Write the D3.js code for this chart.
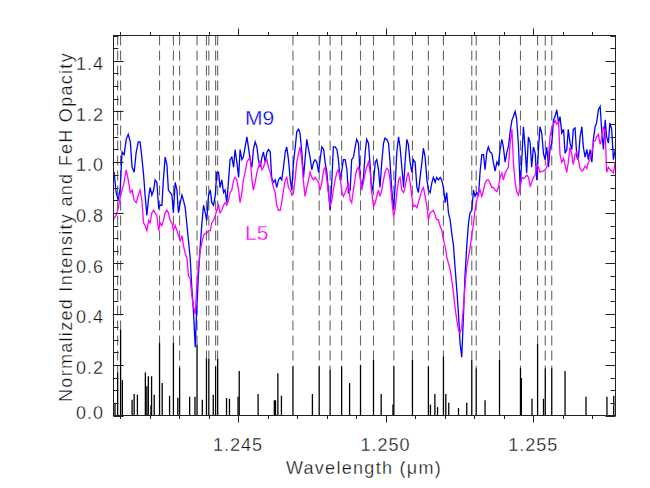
<!DOCTYPE html>
<html>
  <head>
    <meta charset="UTF-8" />
    <style>
      body { margin: 0; background: #fff; }
      svg text {
        font-family: "Liberation Sans", Arial, sans-serif;
        stroke: #fff;
        stroke-width: 0.3px;
      }
    </style>
  </head>
  <body>
    <svg></svg>
    <script src="https://d3js.org/d3.v7.min.js"></script>
    <script>
      let width = 650,
        height = 488;

      // wavelength grid (micron) shared by both spectra
      const wave = [
        1.24078, 1.2408, 1.24087, 1.24094, 1.24101, 1.24107, 1.24114, 1.24121, 1.24128, 1.24135, 1.24141, 1.24148, 1.24155, 1.24162,
        1.24168, 1.24174, 1.2418, 1.24185, 1.24191, 1.24197, 1.24202, 1.24208, 1.24214, 1.24219,
        1.24225, 1.24231, 1.24236, 1.24242, 1.24247, 1.24253, 1.24259, 1.24264, 1.2427, 1.24276,
        1.24281, 1.24287, 1.24293, 1.24298, 1.24304, 1.2431, 1.24315, 1.24321, 1.24327, 1.24332,
        1.24338, 1.24343, 1.24349, 1.24355, 1.2436, 1.24366, 1.24372, 1.24377, 1.24383, 1.24389,
        1.24394, 1.244, 1.24406, 1.24411, 1.24417, 1.24423, 1.24428, 1.24434, 1.24439, 1.24445,
        1.24451, 1.24456, 1.24462, 1.24468, 1.24473, 1.24479, 1.24485, 1.2449, 1.24496, 1.24502,
        1.24507, 1.24513, 1.24518, 1.24524, 1.2453, 1.24535, 1.24541, 1.24547, 1.24552, 1.24558,
        1.24564, 1.24569, 1.24575, 1.24581, 1.24586, 1.24592, 1.24598, 1.24603, 1.24609, 1.24614,
        1.2462, 1.24626, 1.24631, 1.24637, 1.24643, 1.24648, 1.24654, 1.2466, 1.24665, 1.24671,
        1.24677, 1.24682, 1.24688, 1.24694, 1.24699, 1.24705, 1.2471, 1.24716, 1.24722, 1.24727,
        1.24733, 1.24739, 1.24744, 1.2475, 1.24756, 1.24761, 1.24767, 1.24773, 1.24778, 1.24784,
        1.2479, 1.24795, 1.24801, 1.24806, 1.24812, 1.24818, 1.24823, 1.24829, 1.24835, 1.2484,
        1.24846, 1.24852, 1.24857, 1.24863, 1.24869, 1.24874, 1.2488, 1.24885, 1.24891, 1.24897,
        1.24902, 1.24908, 1.24914, 1.24919, 1.24925, 1.24931, 1.24936, 1.24942, 1.24948, 1.24953,
        1.24959, 1.24965, 1.2497, 1.24976, 1.24981, 1.24987, 1.24993, 1.24998, 1.25004, 1.2501,
        1.25015, 1.25021, 1.25027, 1.25032, 1.25038, 1.25044, 1.25049, 1.25055, 1.25061, 1.25066,
        1.25072, 1.25077, 1.25083, 1.25089, 1.25094, 1.251, 1.25106, 1.25111, 1.25117, 1.25123,
        1.25128, 1.25134, 1.2514, 1.25145, 1.25151, 1.25157, 1.25162, 1.25168, 1.25173, 1.25179,
        1.25185, 1.2519, 1.25196, 1.25202, 1.25207, 1.25213, 1.25219, 1.25224, 1.2523, 1.25235,
        1.25241, 1.25247, 1.25252, 1.25258, 1.25264, 1.25269, 1.25275, 1.25281, 1.25286, 1.25292,
        1.25298, 1.25303, 1.25309, 1.25315, 1.2532, 1.25326, 1.25332, 1.25337, 1.25343, 1.25348,
        1.25354, 1.2536, 1.25365, 1.25371, 1.25377, 1.25382, 1.25388, 1.25394, 1.25399, 1.25405,
        1.25411, 1.25416, 1.25422, 1.25428, 1.25433, 1.25439, 1.25444, 1.2545, 1.25456, 1.25461,
        1.25467, 1.25473, 1.25478, 1.25484, 1.2549, 1.25495, 1.25501, 1.25507, 1.25512, 1.25518,
        1.25523, 1.25529, 1.25535, 1.2554, 1.25546, 1.25552, 1.25557, 1.25563, 1.25569, 1.25574,
        1.2558, 1.25586, 1.25591, 1.25597, 1.25603, 1.25608, 1.25614, 1.25619, 1.25625, 1.25631,
        1.25636, 1.25642, 1.25648, 1.25653, 1.25659, 1.25665, 1.2567, 1.25676, 1.25682, 1.25687,
        1.25693, 1.25699, 1.25704, 1.2571, 1.25715, 1.25721, 1.25727, 1.25732, 1.25738, 1.25744,
        1.25749, 1.25755, 1.2576, 1.25766, 1.25772, 1.25778,
      ];

      // M9 normalized intensity
      const m9 = [
        0.96, 0.96, 0.88, 0.85, 0.9, 1.04, 1.03, 1.09, 1.11, 1.08, 0.98, 0.96, 1.04, 1.08,
        1.08, 1.02, 0.95, 0.87, 0.79, 0.86, 0.9, 0.87, 0.89, 0.93,
        0.92, 0.82, 0.83, 0.83, 0.93, 1.02, 0.99, 0.89, 0.88, 0.87,
        0.8, 0.92, 0.89, 0.8, 0.84, 0.87, 0.85, 0.82, 0.75, 0.69,
        0.62, 0.51, 0.41, 0.27, 0.42, 0.56, 0.67, 0.75, 0.83, 0.8,
        0.77, 0.87, 0.89, 0.84, 0.83, 0.87, 0.96, 0.96, 0.9, 0.93,
        0.88, 0.89, 0.84, 0.93, 1.01, 1.02, 0.98, 1.05, 1.0, 0.94,
        1.05, 1.01, 1.02, 1.06, 1.1, 1.06, 1.01, 0.98, 1.05, 1.08,
        1.06, 1.01, 0.98, 1.02, 1.04, 1.0, 1.04, 1.05, 1.04, 0.94,
        0.92, 0.93, 0.9, 0.93, 0.94, 0.93, 0.98, 1.04, 1.06, 1.01,
        0.93, 0.89, 1.0, 1.06, 1.12, 1.13,
        1.115, 1.04, 0.94, 1.01, 1.09, 1.05, 1.02, 0.97, 1.0, 1.01,
        1.0, 0.96, 1.01, 1.06, 1.05, 1.0, 0.96, 0.89, 0.81, 0.93,
        1.06, 1.06, 1.05, 1.01, 0.93, 0.97, 1.01, 1.01, 0.97, 0.88,
        0.89, 1.01, 1.02, 1.06, 1.09, 1.075, 0.94, 0.9, 0.94, 1.04,
        1.09, 1.075, 0.98, 0.88, 0.92, 1.0, 1.01, 0.97, 0.9, 1.0,
        1.075, 1.095, 1.09, 1.075, 1.0, 0.89, 0.81, 0.9, 1.04, 1.1,
        1.06, 0.98, 0.9, 1.0, 1.09, 1.07, 1.0, 0.96, 1.01, 1.0,
        0.9, 0.88, 0.94, 1.0, 1.055, 1.02, 0.93, 0.89, 0.88, 0.92,
        0.94, 0.92, 0.94, 0.93, 0.94, 0.93, 0.9, 0.84, 0.88, 0.8,
        0.77, 0.72, 0.67, 0.59, 0.5, 0.4, 0.29, 0.23, 0.4, 0.55,
        0.67, 0.76,
        0.8, 0.81, 0.89, 0.865, 0.88, 0.87, 0.96, 1.03, 1.03, 0.97,
        1.04, 1.06, 1.04, 1.035, 1.0, 0.965, 1.0, 0.99, 1.05, 1.09,
        1.06, 1.0, 1.04, 1.06, 1.12, 1.165, 1.18, 1.2, 1.17, 1.07,
        0.9, 1.0, 1.14, 1.05, 0.957, 1.1, 1.075, 0.98, 1.06, 1.035,
        0.93, 1.05, 1.14, 1.115, 1.035, 1.01, 1.06, 0.98, 1.05, 1.075,
        1.167, 1.18, 1.207, 1.155, 1.18, 1.115, 1.13, 1.035, 1.05, 1.13,
        1.075, 1.05, 1.13, 1.135, 1.02, 1.01, 1.1, 1.14, 1.06, 1.02,
        1.05, 1.01, 1.05, 1.0, 1.09, 1.14, 1.155, 1.207, 1.22, 1.13,
        1.05, 1.167, 1.1, 1.075, 1.155, 1.13, 1.01, 1.05,
      ];

      // L5 normalized intensity
      const l5 = [
        0.77, 0.78, 0.79, 0.82, 0.86, 0.89, 0.92, 0.97, 0.93, 0.88, 0.89, 0.85, 0.84, 0.87,
        0.89, 0.85, 0.76, 0.75, 0.73, 0.77, 0.76, 0.8, 0.81, 0.8,
        0.79, 0.73, 0.76, 0.75, 0.77, 0.8, 0.81, 0.8, 0.77, 0.76,
        0.73, 0.75, 0.73, 0.71, 0.69, 0.71, 0.67, 0.64, 0.62, 0.55,
        0.54, 0.48, 0.43, 0.4, 0.51, 0.59, 0.65, 0.68, 0.71, 0.72,
        0.72, 0.73, 0.73, 0.76, 0.77, 0.79, 0.81, 0.83, 0.8, 0.81,
        0.83, 0.84, 0.83, 0.85, 0.88, 0.89, 0.93, 0.94, 0.93, 0.89,
        0.84, 0.88, 0.93, 0.96, 1.0, 1.01, 1.02, 0.93, 0.89, 0.92,
        0.96, 0.98, 1.0, 0.97, 0.98, 1.0, 1.01, 0.98, 0.96, 0.93,
        0.9, 0.88, 0.83, 0.81, 0.81, 0.84, 0.89, 0.93, 0.94, 0.9,
        0.89, 0.87, 0.88, 0.94, 1.0, 1.035,
        1.06, 1.01, 0.92, 0.865, 0.9, 0.93, 0.96, 0.94, 0.93, 0.94,
        0.93, 0.92, 0.89, 0.92, 0.97, 0.98, 0.93, 0.88, 0.825, 0.85,
        0.89, 0.93, 0.96, 0.97, 0.94, 0.88, 0.865, 0.88, 0.9, 0.92,
        0.85, 0.84, 0.89, 0.94, 0.97, 0.98, 0.94, 0.89, 0.92, 0.96,
        0.98, 1.0, 0.96, 0.88, 0.825, 0.84, 0.865, 0.89, 0.865, 0.89,
        0.93, 0.96, 0.976, 0.97, 0.93, 0.85, 0.786, 0.81, 0.88, 0.93,
        0.94, 0.89, 0.88, 0.9, 0.94, 0.96, 0.92, 0.865, 0.825, 0.83,
        0.82, 0.84, 0.865, 0.89, 0.9, 0.865, 0.825, 0.773, 0.8, 0.805,
        0.81, 0.79, 0.773, 0.773, 0.746, 0.733, 0.694, 0.667, 0.628, 0.6,
        0.575, 0.536, 0.483, 0.43, 0.378, 0.338, 0.325, 0.35, 0.43, 0.51,
        0.588, 0.628,
        0.66, 0.71, 0.76, 0.81, 0.85, 0.878, 0.89, 0.865, 0.89, 0.918,
        0.93, 0.93, 0.918, 0.9, 0.9, 0.89, 0.884, 0.9, 0.94, 0.957,
        0.93, 0.957, 0.97, 0.98, 1.075, 1.13, 1.0, 0.92, 0.885, 0.87,
        0.9, 0.94, 0.935, 0.94, 0.95, 0.94, 0.905, 0.92, 0.94, 0.95,
        0.99, 0.98, 0.96, 0.965, 0.965, 0.97, 0.98, 1.02, 1.1, 1.135,
        1.15, 1.165, 1.15, 1.16, 1.03, 1.0, 1.015, 0.99, 0.96, 1.0,
        1.06, 1.03, 0.99, 1.03, 1.04, 1.01, 0.975, 0.965, 0.97, 0.985,
        0.975, 1.0, 1.01, 1.04, 1.08, 1.085, 1.1, 1.11, 1.07, 1.09,
        1.14, 1.12, 0.96, 0.98, 0.97, 0.965, 0.957, 1.0,
      ];

      // FeH opacity lines
      const feWave = [
        1.24083, 1.24092, 1.24102, 1.24108, 1.24141, 1.24148, 1.24159, 1.24186, 1.24191, 1.24196,
        1.24205, 1.24207, 1.24216, 1.24234, 1.24243, 1.24268, 1.24281, 1.24296, 1.24302, 1.24336,
        1.24354, 1.24361, 1.24379, 1.24393, 1.24401, 1.24416, 1.24424, 1.24431, 1.24461, 1.24471,
        1.245, 1.24504, 1.24568, 1.24623, 1.24627, 1.24635, 1.24647, 1.24686, 1.24752, 1.24775,
        1.24812, 1.24851, 1.24878, 1.24915, 1.24959, 1.24985, 1.25025, 1.25028, 1.25091, 1.25145,
        1.25152, 1.25167, 1.25176, 1.25196, 1.25204, 1.25214, 1.25247, 1.25275, 1.25292, 1.25307,
        1.25337, 1.25386, 1.25457, 1.2546, 1.25496, 1.25515, 1.25535, 1.25541, 1.25563, 1.25608,
        1.25679, 1.2575, 1.25773,
      ];
      const feOpac = [
        0.05, 0.17, 0.34, 0.14, 0.062, 0.085, 0.082, 0.17, 0.115, 0.155,
        0.04, 0.155, 0.082, 0.286, 0.128, 0.078, 0.286, 0.07, 0.19, 0.074,
        0.074, 0.28, 0.062, 0.226, 0.224, 0.082, 0.194, 0.224, 0.069, 0.066,
        0.074, 0.176, 0.085, 0.06, 0.06, 0.167, 0.078, 0.194, 0.085, 0.194,
        0.181, 0.194, 0.128, 0.2, 0.22, 0.085, 0.043, 0.194, 0.22, 0.194,
        0.043, 0.085, 0.033, 0.233, 0.085, 0.05, 0.03, 0.05, 0.22, 0.187,
        0.06, 0.22, 0.187, 0.148, 0.066, 0.282, 0.066, 0.187, 0.187, 0.176,
        0.074, 0.074, 0.078,
      ];

      // marked FeH lines (dashed)
      const markWave = [
        1.24092, 1.24102, 1.24234, 1.24281, 1.24302, 1.24361, 1.24393, 1.24401, 1.24424, 1.24431,
        1.24686, 1.24775, 1.24812, 1.24851, 1.24915, 1.24959, 1.25028, 1.25091, 1.25145, 1.25196,
        1.25292, 1.25307, 1.25386, 1.25457, 1.25515, 1.25541, 1.25563,
      ];

      const xMajor = [1.245, 1.25, 1.255];
      const xLabels = ["1.245", "1.250", "1.255"];
      const yMajor = [0, 0.2, 0.4, 0.6, 0.8, 1.0, 1.2, 1.4];
      const yLabels = ["0.0", "0.2", "0.4", "0.6", "0.8", "1.0", "1.2", "1.4"];

      let svg = d3.select("svg").attr("width", width).attr("height", height);

      const x = d3.scaleLinear().domain([1.24078, 1.25779]).range([113.5, 615.5]);
      const y = d3.scaleLinear().domain([0, 1.5]).range([415.5, 35.5]);

      const textCol = "#111";

      // dashed markers, from the top down to the line peak
      svg
        .append("g")
        .selectAll("line")
        .data(markWave)
        .enter()
        .append("line")
        .attr("x1", (d) => x(d))
        .attr("x2", (d) => x(d))
        .attr("y1", y(1.5))
        .attr("y2", (d) => {
          let i = d3.minIndex(feWave, (w) => Math.abs(w - d));
          return y(feOpac[i]);
        })
        .attr("stroke", "#666")
        .attr("stroke-width", 1.1)
        .attr("stroke-dasharray", "10,5");

      // opacity spikes
      svg
        .append("g")
        .selectAll("line")
        .data(feWave)
        .enter()
        .append("line")
        .attr("x1", (d) => x(d))
        .attr("x2", (d) => x(d))
        .attr("y1", y(0))
        .attr("y2", (d, i) => y(feOpac[i]))
        .attr("stroke", "#000")
        .attr("stroke-width", 1.3);

      const line = d3
        .line()
        .x((d, i) => x(wave[i]))
        .y((d) => y(d));

      svg.append("path").attr("d", line(m9)).attr("fill", "none")
        .attr("stroke", "#0000ff").attr("stroke-width", 1.3);
      svg.append("path").attr("d", line(l5)).attr("fill", "none")
        .attr("stroke", "#ff00ff").attr("stroke-width", 1.3);

      // frame
      svg.append("rect")
        .attr("x", 113.5).attr("y", 35.5)
        .attr("width", 502).attr("height", 380)
        .attr("fill", "none").attr("stroke", "#222").attr("stroke-width", 1);

      // x ticks (outward) on bottom and top
      const xMinor = d3.range(1241, 1258).map((d) => d / 1000);
      let ax = svg.append("g").attr("stroke", "#222").attr("stroke-width", 1);
      xMinor.forEach((v) => {
        let len = xMajor.some((m) => Math.abs(m - v) < 1e-6) ? 7 : 3.5;
        let px = Math.round(x(v)) + 0.5;
        ax.append("line").attr("x1", px).attr("x2", px).attr("y1", 415.5).attr("y2", 415.5 + len);
        ax.append("line").attr("x1", px).attr("x2", px).attr("y1", 35.5).attr("y2", 35.5 - len);
      });

      // y ticks (inward) on left and right
      const yMinor = d3.range(0, 31).map((d) => d * 0.05);
      yMinor.forEach((v, i) => {
        let len = i % 4 == 0 ? 10 : 5;
        let py = Math.round(y(v)) + 0.5;
        ax.append("line").attr("x1", 113.5).attr("x2", 113.5 + len).attr("y1", py).attr("y2", py);
        ax.append("line").attr("x1", 615.5).attr("x2", 615.5 - len).attr("y1", py).attr("y2", py);
      });

      svg
        .selectAll("text.xl")
        .data(xMajor)
        .enter()
        .append("text")
        .attr("x", (d) => x(d))
        .attr("y", 451)
        .attr("text-anchor", "middle")
        .style("font-size", "18px")
        .style("letter-spacing", "1px")
        .style("fill", textCol)
        .text((d, i) => xLabels[i]);

      svg
        .selectAll("text.yl")
        .data(yMajor)
        .enter()
        .append("text")
        .attr("x", 104)
        .attr("y", (d) => (d == 0 ? y(d) + 3 : y(d) + 9))
        .attr("text-anchor", "end")
        .style("font-size", "18px")
        .style("letter-spacing", "1px")
        .style("fill", textCol)
        .text((d, i) => yLabels[i]);

      svg.append("text")
        .attr("x", 364).attr("y", 474)
        .attr("text-anchor", "middle")
        .style("font-size", "18px")
        .style("letter-spacing", "1.3px")
        .style("fill", textCol)
        .text("Wavelength (μm)");

      svg.append("text")
        .attr("transform", "translate(72,227) rotate(-90)")
        .attr("text-anchor", "middle")
        .style("font-size", "18px")
        .style("letter-spacing", "1.3px")
        .style("fill", textCol)
        .text("Normalized Intensity and FeH Opacity");

      svg.append("text").attr("x", 245).attr("y", 125)
        .style("font-size", "21px").style("fill", "#0000ff").text("M9");
      svg.append("text").attr("x", 245).attr("y", 239.5)
        .style("font-size", "21px").style("fill", "#ff00ff").text("L5");
    </script>
  </body>
</html>
